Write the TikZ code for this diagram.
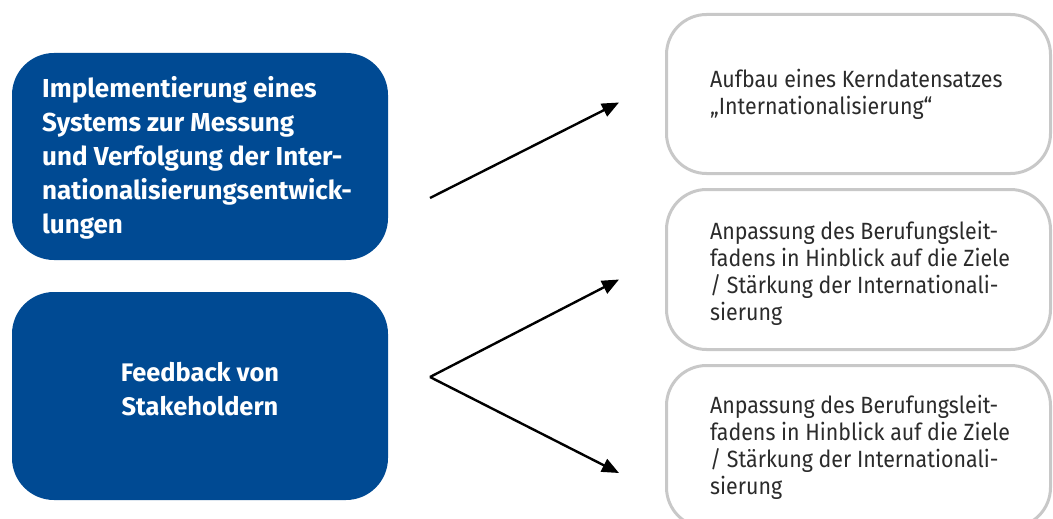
\documentclass[tikz,border=0pt]{standalone}
\usepackage{fontspec}
\setmainfont{Fira Sans}
\newfontfamily\narrowfira[FakeStretch=0.91]{Fira Sans}
\usetikzlibrary{arrows.meta}
\definecolor{boxblue}{HTML}{004A93}
\definecolor{boxgray}{HTML}{C8C8C8}
\definecolor{txtgray}{HTML}{2B2B2B}
\begin{document}
\begin{tikzpicture}[x=1pt,y=-1pt,
  bluebox/.style={draw=none,fill=boxblue,rounded corners=42pt,minimum width=376pt,inner sep=0pt},
  graybox/.style={draw=boxgray,line width=3pt,fill=white,rounded corners=40pt,minimum width=384pt,inner sep=0pt},
  bluetext/.style={text=white,font=\fontsize{26}{34}\selectfont\bfseries,align=left,inner sep=0pt,anchor=base west},
  graytext/.style={text=txtgray,font=\narrowfira\fontsize{23.5}{27}\selectfont,align=left,inner sep=0pt,anchor=base west},
  arr/.style={line width=2.4pt,-{Triangle[length=17pt,width=14pt]}}]
\useasboundingbox (0,0) rectangle (1053,519);
\clip (0,0) rectangle (1053,519);
% left boxes
\node[bluebox,minimum height=207pt] (b1) at (200,156.5) {};
\node[bluebox,minimum height=208pt] (b2) at (200,396) {};
\node[bluetext] (t1) at (42,233.5) {Implementierung eines\\Systems zur Messung\\und Verfolgung der Inter-\\nationalisierungsentwick-\\lungen};
\node[text=white,font=\fontsize{25.4}{34}\selectfont\bfseries,align=center,inner sep=0pt,anchor=base] (t2) at (200,415) {Feedback von\\Stakeholdern};
% right boxes
\node[graybox,minimum height=159pt] (r1) at (858.5,94) {};
\node[graybox,minimum height=160pt] (r2) at (858.5,269.5) {};
\node[graybox,minimum height=162pt] (r3) at (858.5,446.5) {};
\node[graytext] (s1) at (710,114.7) {Aufbau eines Kerndatensatzes\\„Internationalisierung“};
\node[graytext] (s2) at (710,320.3) {Anpassung des Berufungsleit-\\fadens in Hinblick auf die Ziele\\/ Stärkung der Internationali-\\sierung};
\node[graytext] (s3) at (710,494.3) {Anpassung des Berufungsleit-\\fadens in Hinblick auf die Ziele\\/ Stärkung der Internationali-\\sierung};
% arrows
\coordinate (a1s) at (430,198);
\coordinate (a1e) at (619,102.5);
\coordinate (a2s) at (430,377);
\coordinate (a2e) at (619,279.5);
\coordinate (a3e) at (619,473);
\draw[arr] (a1s) -- (a1e);
\draw[arr] (a2s) -- (a2e);
\draw[arr] (a2s) -- (a3e);
\end{tikzpicture}
\end{document}
